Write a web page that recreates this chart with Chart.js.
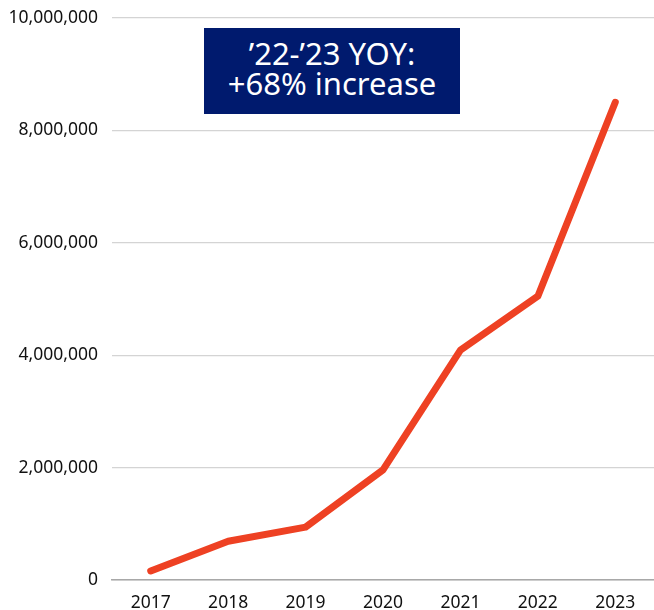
<!DOCTYPE html>
<html>
<head>
<meta charset="utf-8">
<script src="https://cdn.jsdelivr.net/npm/chart.js@4"></script>
<style>
  body { margin: 0; background: #fff; }
  #wrap { position: relative; width: 654px; height: 610px; }
  #yoy {
    position: absolute; left: 204px; top: 28px; width: 256px; height: 86px;
    background: #001a6e; color: #fff; text-align: center;
    font-family: "Noto Sans", sans-serif; font-size: 31px; line-height: 30px;
    box-sizing: border-box; padding-top: 10px;
  }
</style>
</head>
<body>
<div id="wrap">
  <canvas id="lineChart1" width="654" height="610"></canvas>
  <div id="yoy">’22-’23 YOY:<br>+68% increase</div>
</div>
<script>
const years = ["2017", "2018", "2019", "2020", "2021", "2022", "2023"];
const users = [160000, 690000, 940000, 1960000, 4090000, 5050000, 8500000];
const yTicks = [0, 2000000, 4000000, 6000000, 8000000, 10000000];

const lineChartcnt = document.getElementById("lineChart1");

function lineChart(label, datasetsNumber) {
  let chart = new Chart(lineChartcnt, {
    type: "line",
    data: {
      labels: label,
      datasets: [
        {
          data: datasetsNumber,
          borderColor: "#ee4123",
          borderWidth: 7,
          borderCapStyle: "round",
          borderJoinStyle: "round",
          pointRadius: 0,
          tension: 0,
        },
      ],
    },
    options: {
      responsive: false,
      animation: false,
      layout: { padding: { top: 18, right: 0, bottom: 0, left: 0 } },
      plugins: { legend: { display: false }, tooltip: { enabled: false } },
      scales: {
        x: {
          offset: true,
          grid: { display: false },
          border: { display: true, color: "#a8a8a8", width: 1.5 },
          ticks: {
            color: "#111",
            font: { family: "Noto Sans", size: 17.5 },
            padding: 5,
            maxRotation: 0,
          },
          afterFit: (scale) => { scale.height = 30; },
        },
        y: {
          min: 0,
          max: 10000000,
          afterBuildTicks: (scale) => {
            scale.ticks = yTicks.map((v) => ({ value: v }));
          },
          grid: { color: "#d4d4d4", lineWidth: 1.2, drawTicks: false },
          border: { display: false },
          ticks: {
            color: "#111",
            font: { family: "Noto Sans", size: 17.5 },
            padding: 14,
            callback: (v) => v.toLocaleString("en-US"),
          },
          afterFit: (scale) => {
            scale.width = 112;
            scale.paddingTop = 0;
            scale.paddingBottom = 0;
          },
        },
      },
    },
  });
}

lineChart(years, users);
</script>
</body>
</html>
